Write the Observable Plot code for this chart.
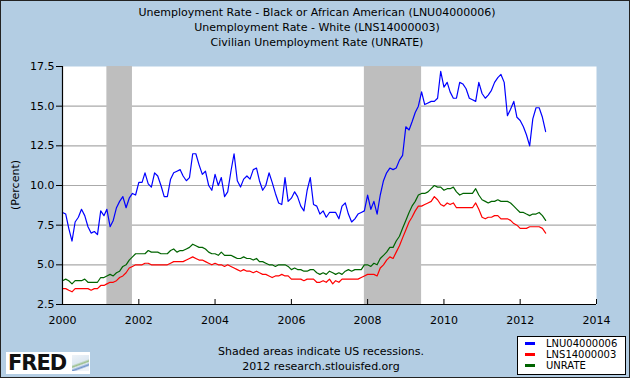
<!DOCTYPE html>
<html>
<head>
<meta charset="utf-8">
<script src="https://cdn.jsdelivr.net/npm/d3@7"></script>
<script src="https://cdn.jsdelivr.net/npm/@observablehq/plot@0.6"></script>
<style>
  html, body { margin: 0; padding: 0; background: #b3cde3; }
  #wrap { position: relative; width: 630px; height: 378px; box-sizing: border-box; border: 1px solid #222; background: #b3cde3; overflow: hidden; font-family: "DejaVu Sans", sans-serif; color: #000; }
  #layer { position: absolute; left: -1px; top: -1px; width: 630px; height: 378px; }
  #chart { position: absolute; left: 0; top: 0; }
  .ctr { position: absolute; white-space: nowrap; transform: translateX(-50%); font-size: 11px; line-height: 14px; }
  #ylab { position: absolute; left: 15px; top: 185px; transform: translate(-50%, -50%) rotate(-90deg); font-size: 11px; white-space: nowrap; }
  #legend { position: absolute; left: 517px; top: 336px; width: 109px; height: 39px; box-sizing: border-box; border: 1px solid #000; background: #fff; font-size: 10px; }
  .lrow { position: absolute; left: 0; height: 11px; line-height: 11px; }
  .sw { position: absolute; left: 7px; top: 4px; width: 10px; height: 3px; }
  .lt { position: absolute; left: 28px; top: 0; white-space: nowrap; }
  #logo { position: absolute; left: 6px; top: 352px; width: 84px; height: 22px; background: #fff; }
  #logo .f { position: absolute; left: 2px; top: -1px; font-family: "DejaVu Sans", sans-serif; font-weight: bold; font-size: 21px; letter-spacing: -1px; color: #111; }
  #logo .ic { position: absolute; left: 66px; top: 3px; width: 17px; height: 16px; background: linear-gradient(160deg, #eef3f8 0%, #dde8f2 45%, #9bbf8a 55%, #dde8f2 62%, #6f93c9 72%, #eef3f8 80%); }
</style>
</head>
<body>
<div id="wrap"><div id="layer">
  <div id="chart"></div>
  <div id="titles"></div>
  <div id="ylab"></div>
  <div id="footer"></div>
  <div id="legend"></div>
  <div id="logo"><span class="f">FRED</span><span class="ic"></span></div>
</div></div>
<script>
// ---- data (monthly, starting January 2000) ----
const startYear = 2000;
const seriesIds = ["LNU04000006", "LNS14000003", "UNRATE"];
const seriesColors = ["#0000ff", "#ff0000", "#006400"];
const titleLines = [
  "Unemployment Rate - Black or African American (LNU04000006)",
  "Unemployment Rate - White (LNS14000003)",
  "Civilian Unemployment Rate (UNRATE)"
];
const yAxisLabel = "(Percent)";
const footerLines = ["Shaded areas indicate US recessions.", "2012 research.stlouisfed.org"];

const blackRate = [
  8.3, 8.2, 7.3, 6.5, 7.7, 8.0, 8.5, 8.1, 7.4, 7.0, 7.1, 6.9,
  8.4, 8.1, 8.5, 7.4, 7.8, 8.6, 9.0, 9.3, 8.6, 9.2, 9.5, 9.4,
  10.2, 10.2, 10.8, 10.1, 9.9, 10.8, 10.6, 10.0, 9.3, 9.3, 10.4, 10.8,
  10.9, 11.0, 10.6, 10.3, 10.5, 12.0, 12.0, 11.3, 10.7, 10.9, 10.0, 9.7,
  10.7, 10.0, 10.5, 9.3, 9.6, 10.9, 12.0, 10.3, 9.9, 10.4, 10.6, 10.4,
  11.0, 11.1, 10.3, 9.7, 10.0, 10.8, 10.2, 9.5, 8.9, 8.8, 10.5, 9.0,
  9.2, 9.6, 9.3, 8.7, 8.4, 9.7, 10.5, 8.8, 8.7, 8.2, 8.4, 8.0,
  8.3, 8.3, 8.3, 7.9, 8.7, 8.9, 8.2, 7.7, 7.9, 8.2, 8.3, 8.4,
  9.4, 8.5, 9.0, 8.2, 9.4, 10.3, 10.8, 11.1, 11.0, 11.1, 11.6, 11.9,
  13.7, 13.5, 14.0, 14.6, 15.0, 15.9, 15.1, 15.2, 15.3, 15.3, 15.5, 17.2,
  16.2, 16.5, 15.9, 15.5, 15.5, 16.5, 16.4, 16.1, 15.5, 15.4, 15.3, 16.5,
  15.8, 15.5, 15.7, 16.0, 16.5, 16.8, 17.0, 16.5, 14.4, 14.8, 15.3, 14.3,
  14.1, 13.7, 13.2, 12.5, 14.2, 14.9, 14.9, 14.3, 13.4
];
const whiteRate = [
  3.5, 3.5, 3.4, 3.3, 3.5, 3.5, 3.5, 3.5, 3.5, 3.4, 3.5, 3.5,
  3.7, 3.7, 3.8, 3.9, 3.9, 4.0, 4.2, 4.3, 4.5, 4.8, 4.9, 5.0,
  5.0, 5.0, 5.1, 5.1, 5.0, 5.0, 5.0, 5.0, 5.0, 5.0, 5.1, 5.2,
  5.2, 5.2, 5.2, 5.3, 5.4, 5.5, 5.4, 5.3, 5.3, 5.2, 5.1, 5.0,
  5.1, 5.0, 5.0, 4.9, 5.0, 4.9, 4.8, 4.7, 4.6, 4.7, 4.6, 4.6,
  4.5, 4.6, 4.5, 4.4, 4.4, 4.3, 4.2, 4.3, 4.3, 4.4, 4.3, 4.3,
  4.1, 4.1, 4.1, 4.1, 4.0, 4.1, 4.1, 4.1, 3.9, 3.9, 4.0, 3.9,
  4.1, 3.8, 4.0, 3.9, 4.1, 4.1, 4.1, 4.1, 4.1, 4.1, 4.2, 4.3,
  4.4, 4.4, 4.4, 4.3, 4.8, 5.0, 5.3, 5.5, 5.4, 5.8, 6.2, 6.7,
  7.2, 7.7, 8.0, 8.4, 8.7, 8.7, 8.8, 8.9, 9.0, 9.3, 9.1, 8.8,
  8.7, 8.9, 8.8, 8.9, 8.6, 8.6, 8.6, 8.6, 8.6, 8.6, 8.9, 8.5,
  8.0, 7.9, 8.0, 8.0, 8.1, 8.1, 7.9, 7.9, 7.9, 7.8, 7.6, 7.5,
  7.3, 7.3, 7.3, 7.4, 7.4, 7.4, 7.4, 7.3, 7.0
];
const totalRate = [
  4.0, 4.1, 4.0, 3.8, 4.0, 4.0, 4.0, 4.1, 3.9, 3.9, 3.9, 3.9,
  4.2, 4.2, 4.3, 4.4, 4.3, 4.5, 4.6, 4.9, 5.0, 5.3, 5.5, 5.7,
  5.7, 5.7, 5.7, 5.9, 5.8, 5.8, 5.8, 5.7, 5.7, 5.7, 5.9, 6.0,
  5.8, 5.9, 5.9, 6.0, 6.1, 6.3, 6.2, 6.1, 6.1, 6.0, 5.8, 5.7,
  5.7, 5.6, 5.8, 5.6, 5.6, 5.6, 5.5, 5.4, 5.4, 5.5, 5.4, 5.4,
  5.3, 5.4, 5.2, 5.2, 5.1, 5.0, 5.0, 4.9, 5.0, 5.0, 5.0, 4.9,
  4.7, 4.8, 4.7, 4.7, 4.6, 4.6, 4.7, 4.7, 4.5, 4.4, 4.5, 4.4,
  4.6, 4.5, 4.4, 4.5, 4.4, 4.6, 4.7, 4.6, 4.7, 4.7, 4.7, 5.0,
  5.0, 4.9, 5.1, 5.0, 5.4, 5.6, 5.8, 6.1, 6.1, 6.5, 6.8, 7.3,
  7.8, 8.3, 8.7, 9.0, 9.4, 9.5, 9.5, 9.6, 9.8, 10.0, 9.9, 9.9,
  9.7, 9.8, 9.8, 9.9, 9.6, 9.4, 9.5, 9.5, 9.5, 9.5, 9.8, 9.4,
  9.1, 9.0, 8.9, 9.0, 9.0, 9.1, 9.0, 9.0, 9.0, 8.9, 8.7, 8.5,
  8.3, 8.3, 8.2, 8.1, 8.2, 8.2, 8.3, 8.1, 7.8
];
const recessionStarts = ["2001-03-01", "2007-12-01"];
const recessionEnds = ["2001-11-01", "2009-06-01"];
const xTickYears = [2000, 2002, 2004, 2006, 2008, 2010, 2012, 2014];
const yTicks = [2.5, 5.0, 7.5, 10.0, 12.5, 15.0, 17.5];
const gridValues = [5.0, 7.5, 10.0, 12.5, 15.0];

// ---- build tables ----
const monthDate = i => new Date(Date.UTC(startYear, i, 1));
const allSeries = [blackRate, whiteRate, totalRate];
const rows = allSeries.map((vals, s) => vals.map((v, i) => ({date: monthDate(i), value: v, series: seriesIds[s]})));
const recessions = recessionStarts.map((s, k) => ({start: new Date(s + "T00:00:00Z"), end: new Date(recessionEnds[k] + "T00:00:00Z")}));
const xTicks = xTickYears.map(y => new Date(Date.UTC(y, 0, 1)));
const xDomain = [xTicks[0], xTicks[xTicks.length - 1]];

const plot = Plot.plot({
  width: 630,
  height: 378,
  marginLeft: 62,
  marginRight: 34,
  marginTop: 66,
  marginBottom: 74,
  style: {background: "transparent", fontFamily: "DejaVu Sans, sans-serif", fontSize: "11px", color: "#000"},
  x: {type: "utc", domain: xDomain},
  y: {domain: [yTicks[0], yTicks[yTicks.length - 1]]},
  marks: [
    Plot.frame({fill: "#ffffff", stroke: "none"}),
    Plot.ruleY(gridValues, {stroke: "#aaaaaa", strokeWidth: 1.2}),
    Plot.rect(recessions, {x1: "start", x2: "end", fill: "#bebebe"}),
    Plot.line(rows[0], {x: "date", y: "value", stroke: seriesColors[0], strokeWidth: 1.2}),
    Plot.line(rows[1], {x: "date", y: "value", stroke: seriesColors[1], strokeWidth: 1.2}),
    Plot.line(rows[2], {x: "date", y: "value", stroke: seriesColors[2], strokeWidth: 1.2}),
    Plot.tickX(xTicks, {x: d => d, stroke: "#000", insetTop: 233}),
    Plot.ruleX([xDomain[0]], {stroke: "#000", strokeWidth: 1.2}),
    Plot.ruleY([yTicks[0]], {stroke: "#000", strokeWidth: 1.2}),
    Plot.axisY({ticks: yTicks, tickFormat: d3.format(".1f"), tickSize: 6, tickPadding: 2, label: null}),
    Plot.axisX({ticks: xTicks, tickFormat: d => String(d.getUTCFullYear()), tickSize: 0, tickPadding: 12, label: null})
  ]
});
document.getElementById("chart").appendChild(plot);

// ---- titles ----
const titleTops = [6, 21, 36];
const titlesEl = document.getElementById("titles");
titleLines.forEach((t, k) => {
  const d = document.createElement("div");
  d.className = "ctr";
  d.style.left = "317px";
  d.style.top = titleTops[k] + "px";
  d.textContent = t;
  titlesEl.appendChild(d);
});
document.getElementById("ylab").textContent = yAxisLabel;

const footerEl = document.getElementById("footer");
footerLines.forEach((t, k) => {
  const d = document.createElement("div");
  d.className = "ctr";
  d.style.left = "321px";
  d.style.top = (345 + 15 * k) + "px";
  d.textContent = t;
  footerEl.appendChild(d);
});

// ---- legend ----
const legendEl = document.getElementById("legend");
seriesIds.forEach((id, k) => {
  const r = document.createElement("div");
  r.className = "lrow";
  r.style.top = (1 + 11 * k) + "px";
  r.innerHTML = `<span class="sw" style="background:${seriesColors[k]}"></span><span class="lt"></span>`;
  r.querySelector(".lt").textContent = id;
  legendEl.appendChild(r);
});
</script>
</body>
</html>
